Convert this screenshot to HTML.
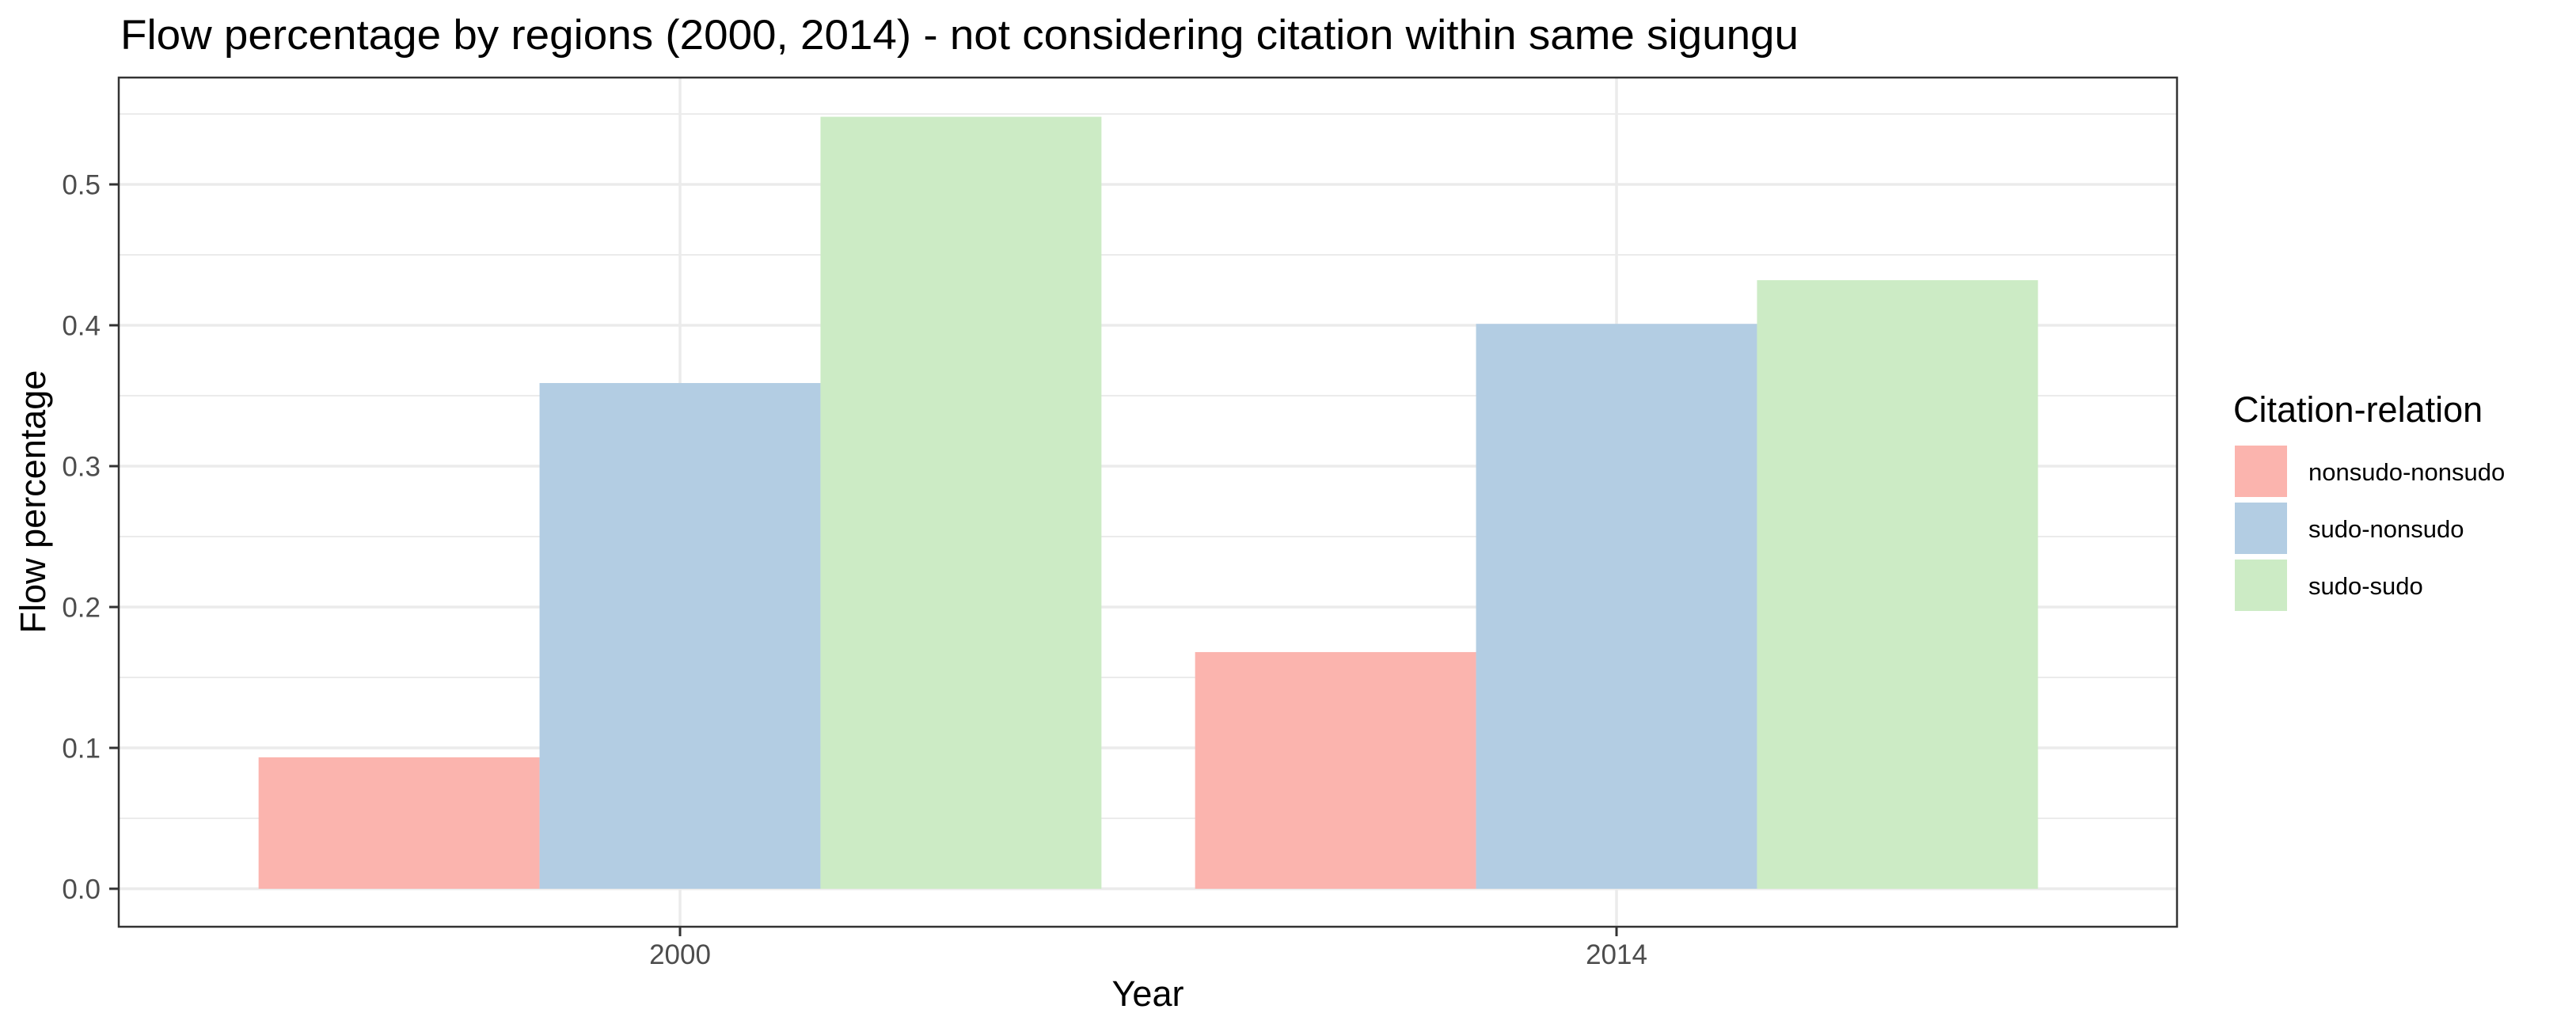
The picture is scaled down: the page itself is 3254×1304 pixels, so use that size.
<!DOCTYPE html>
<html><head><meta charset="utf-8"><style>
html,body{margin:0;padding:0;background:#fff;}
svg{display:block;font-family:"Liberation Sans",Arial,sans-serif;}
</style></head><body>
<svg id="chart" width="3254" height="1304" viewBox="0 0 3254 1304" xmlns="http://www.w3.org/2000/svg">
<rect x="0" y="0" width="3254" height="1304" fill="#fff"/>
<text x="152" y="62" font-size="53" fill="#000" textLength="2120" lengthAdjust="spacingAndGlyphs">Flow percentage by regions (2000, 2014) - not considering citation within same sigungu</text>
<g id="grid"></g>
<g id="bars"></g>
<rect x="150" y="98" width="2600" height="1073" fill="none" stroke="#333" stroke-width="2.5"/>
<g id="axes"></g>
<text x="1450" y="1271" font-size="45" text-anchor="middle" fill="#000">Year</text>
<text transform="translate(57,634) rotate(-90)" font-size="45" text-anchor="middle" fill="#000">Flow percentage</text>
<g id="legend">
<text x="2821" y="533" font-size="45" fill="#000">Citation-relation</text>
</g>
</svg>
<script>
const categories = ["2000", "2014"];
const seriesNames = ["nonsudo-nonsudo", "sudo-nonsudo", "sudo-sudo"];
const nonsudoNonsudo = [0.0933, 0.168];
const sudoNonsudo = [0.359, 0.401];
const sudoSudo = [0.548, 0.432];
const yTicks = [0.0, 0.1, 0.2, 0.3, 0.4, 0.5];
const yTickLabels = ["0.0", "0.1", "0.2", "0.3", "0.4", "0.5"];
const yMinor = [0.05, 0.15, 0.25, 0.35, 0.45, 0.55];

const colors = ["#FBB4AE", "#B3CDE3", "#CCEBC5"];
const series = [nonsudoNonsudo, sudoNonsudo, sudoSudo];
const NS = "http://www.w3.org/2000/svg";
const L = 150, R = 2750, T = 98, B = 1171;
const y0px = 1123, perUnit = 1780;
function yScale(v){ return y0px - v * perUnit; }
function xCenter(i){ return 859 + i * 1183; }
const barW = 1183 * 0.9 / series.length;

function mk(tag, attrs, parent){ const e = document.createElementNS(NS, tag); for (const k in attrs) e.setAttribute(k, attrs[k]); parent.appendChild(e); return e; }
const grid = document.getElementById('grid'), bars = document.getElementById('bars'), axes = document.getElementById('axes'), legend = document.getElementById('legend');

yMinor.forEach(v => { const l = mk('line', {x1:L, x2:R, y1:yScale(v), y2:yScale(v), stroke:'#EBEBEB', 'stroke-width':2}, grid);
  
   });
yTicks.forEach(v => { const l = mk('line', {x1:L, x2:R, y1:yScale(v), y2:yScale(v), stroke:'#EBEBEB', 'stroke-width':3.5}, grid);
  
   });
categories.forEach((c, i) => { const l = mk('line', {x1:xCenter(i), x2:xCenter(i), y1:T, y2:B, stroke:'#EBEBEB', 'stroke-width':3.5}, grid);
  
   });

categories.forEach((c, i) => {
  series.forEach((s, j) => {
    const x = xCenter(i) - 1183 * 0.45 + j * barW;
    const r = mk('rect', {x:x, y:yScale(s[i]), width:barW, height:yScale(0) - yScale(s[i]), fill:colors[j]}, bars);
    
    
  });
});

yTicks.forEach((v, i) => {
  const t = mk('line', {x1:138, x2:150, y1:yScale(v), y2:yScale(v), stroke:'#333', 'stroke-width':3}, axes);
  
  
  const tx = mk('text', {x:127, y:yScale(v) + 12.5, 'font-size':35, fill:'#4D4D4D', 'text-anchor':'end'}, axes);
  tx.textContent = yTickLabels[i];
  
  
});
categories.forEach((c, i) => {
  const t = mk('line', {x1:xCenter(i), x2:xCenter(i), y1:B, y2:B + 12, stroke:'#333', 'stroke-width':3}, axes);
  
  
  const tx = mk('text', {x:xCenter(i), y:1218, 'font-size':35, fill:'#4D4D4D', 'text-anchor':'middle'}, axes);
  tx.textContent = c;
  
  
});

seriesNames.forEach((n, j) => {
  const top = 563 + j * 72;
  const r = mk('rect', {x:2823, y:top, width:66, height:65, fill:colors[j]}, legend);
  
  
  const tx = mk('text', {x:2916, y:top + 44, 'font-size':31, fill:'#000'}, legend);
  tx.textContent = n;
  
  
});
</script>
</body></html>
